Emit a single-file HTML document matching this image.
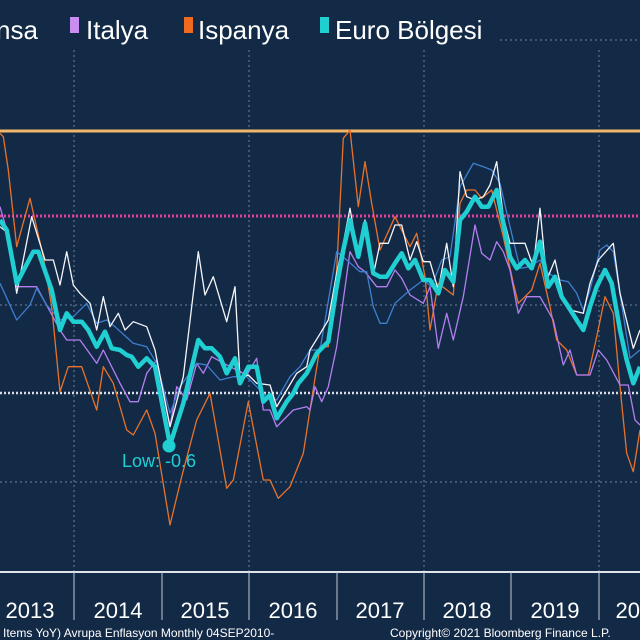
<!DOCTYPE html>
<html><head><meta charset="utf-8"><style>
html,body{margin:0;padding:0;background:#132a47;}
svg{display:block;font-family:"Liberation Sans",sans-serif;}
</style></head><body>
<svg id="c" width="640" height="640" viewBox="0 0 640 640" xmlns="http://www.w3.org/2000/svg">
<rect width="640" height="640" fill="#132a47"/>
<g stroke="#8797ad" stroke-width="1" stroke-dasharray="2,3" opacity="0.8">
<line x1="74" y1="50" x2="74" y2="572"/><line x1="249" y1="50" x2="249" y2="572"/>
<line x1="424" y1="50" x2="424" y2="572"/><line x1="599" y1="50" x2="599" y2="572"/>
<line x1="500" y1="40" x2="640" y2="40"/>
<line x1="0" y1="305" x2="640" y2="305"/>
<line x1="0" y1="482" x2="640" y2="482"/>
</g>
<line x1="0" y1="131" x2="640" y2="131" stroke="#f2b66a" stroke-width="3"/>
<line x1="0" y1="216" x2="640" y2="216" stroke="#e0409e" stroke-width="3" stroke-dasharray="2,2"/>
<line x1="0" y1="393" x2="640" y2="393" stroke="#d8dde6" stroke-width="2.5" stroke-dasharray="2,2"/>
<g id="series" fill="none" stroke-linejoin="round"></g>
<circle cx="169" cy="446" r="6.5" fill="#1fcfd2"/>
<text x="122" y="467" font-size="18" fill="#1fcfd2">Low: -0.6</text>
<g>
<text x="-4" y="39" font-size="26" fill="#ffffff">nsa</text>
<rect x="70" y="17" width="9" height="16" fill="#c98cf0"/>
<text x="86" y="39" font-size="26" fill="#ffffff">Italya</text>
<rect x="184" y="17" width="9" height="16" fill="#f06a20"/>
<text x="198" y="39" font-size="26" fill="#ffffff">Ispanya</text>
<rect x="320" y="17" width="9" height="16" fill="#20d0d0"/>
<text x="335" y="39" font-size="26" fill="#ffffff">Euro Bölgesi</text>
</g>
<line x1="0" y1="572" x2="640" y2="572" stroke="#e0e4ea" stroke-width="2"/>
<g stroke="#c0c8d4" stroke-width="1">
<line x1="74" y1="572" x2="74" y2="620"/><line x1="162" y1="572" x2="162" y2="620"/>
<line x1="249" y1="572" x2="249" y2="620"/><line x1="337" y1="572" x2="337" y2="620"/>
<line x1="424" y1="572" x2="424" y2="620"/><line x1="511" y1="572" x2="511" y2="620"/>
<line x1="599" y1="572" x2="599" y2="620"/>
</g>
<g font-size="22" fill="#ffffff" text-anchor="middle">
<text x="30" y="618">2013</text><text x="118" y="618">2014</text><text x="205" y="618">2015</text>
<text x="293" y="618">2016</text><text x="380" y="618">2017</text><text x="467" y="618">2018</text>
<text x="555" y="618">2019</text><text x="640" y="618">2020</text>
</g>
<text x="3" y="637" font-size="12" fill="#ffffff">Items YoY) Avrupa Enflasyon  Monthly 04SEP2010-</text>
<text x="390" y="637" font-size="12" fill="#ffffff">Copyright© 2021 Bloomberg Finance L.P.</text>
</svg>
<script>
var S={
orange:{c:"#e8722a",w:1.3,a:[[0,40],[10,50],[25,150],[50,380],[90,235],[130,410],[155,560],[180,815],[205,740],[245,740],[290,870],[310,740],[340,790],[380,930],[400,945],[440,870],[465,940],[510,1215],[545,1070],[590,900],[630,820],[680,1105],[700,1080],[745,845],[790,1080],[810,1080],[835,1135],[870,1100],[910,1000],[950,840],[990,680]],
b:[[0,870],[30,680],[55,680],[80,450],[100,55],[120,30],[145,260],[165,125],[185,250],[210,390],[255,290],[300,380],[320,340],[345,470],[360,630],[385,490],[430,525],[450,250],[470,210],[495,210],[515,235],[545,210],[580,350],[610,490],[625,550],[665,510],[690,430],[720,560],[740,660],[770,690],[800,765],[835,765],[860,650],[885,530],[910,580],[930,800],[950,1000],[970,1055],[990,930]]},
purple:{c:"#b47ef0",w:1.3,a:[[0,260],[20,330],[50,500],[110,500],[180,630],[200,660],[240,660],[290,730],[310,690],[360,790],[390,845],[415,845],[440,760],[470,720],[510,920],[530,800],[560,840],[590,730],[610,760],[635,710],[690,740],[740,765],[770,715],[790,870],[810,870],[830,920],[880,870],[920,860],[945,795],[965,840],[990,800]],
b:[[0,870],[15,800],[35,845],[55,800],[80,680],[120,395],[145,440],[165,455],[200,500],[230,500],[255,450],[275,475],[300,525],[340,550],[360,500],[385,685],[410,580],[430,660],[460,530],[495,315],[515,400],[540,420],[560,365],[580,395],[600,450],[625,580],[650,530],[690,530],[730,600],[760,735],[780,690],[800,765],[840,765],[865,690],[890,720],[930,795],[955,795],[975,900],[990,915]]},
blue:{c:"#3d7fd0",w:1.3,a:[[0,490],[50,600],[90,555],[110,505],[140,555],[180,600],[220,590],[260,550],[290,610],[320,600],[345,620],[400,670],[440,680],[470,730],[510,880],[540,800],[590,730],[620,735],[660,780],[700,770],[740,770],[800,830],[830,840],[870,770],[900,740],[930,690],[990,630]],
b:[[0,690],[30,690],[80,395],[110,420],[150,455],[170,455],[190,560],[210,610],[230,610],[255,550],[300,510],[340,480],[365,500],[395,420],[420,410],[450,200],[490,130],[520,140],[545,150],[570,190],[600,320],[630,445],[660,440],[690,420],[715,460],[750,480],[775,485],[800,520],[820,570],[840,510],[870,390],[890,375],[910,395],[930,520],[960,715],[990,690]]},
white:{c:"#f4f6fa",w:1.3,a:[[0,320],[25,340],[50,520],[95,290],[135,420],[160,420],[180,495],[200,395],[220,495],[240,520],[270,550],[290,630],[310,530],[330,620],[355,580],[375,630],[400,605],[440,620],[465,690],[510,920],[550,770],[595,395],[615,525],[640,470],[680,605],[705,500],[720,775],[745,765],[770,790],[810,795],[830,860],[860,810],[890,760],[920,740],[945,665],[990,600]],
b:[[0,690],[25,650],[55,600],[80,460],[100,370],[120,265],[145,410],[165,300],[190,465],[210,370],[235,370],[255,315],[275,315],[300,420],[320,365],[340,425],[360,425],[385,510],[410,370],[430,500],[450,155],[470,230],[495,240],[520,230],[540,195],[560,125],[580,290],[600,370],[645,370],[670,440],[690,265],[710,480],[735,420],[760,535],[780,570],[820,580],[840,490],[865,420],[910,370],[930,520],[970,685],[990,630]]},
euro:{c:"#1fcfd2",w:4.5,a:[[0,300],[20,330],[50,490],[100,395],[115,395],[155,510],[180,630],[200,580],[220,605],[245,605],[265,630],[290,680],[315,635],[335,685],[360,690],[380,705],[395,710],[415,740],[440,715],[465,740],[510,975],[550,850],[595,660],[615,685],[635,685],[660,710],[680,760],[705,715],[720,790],[745,740],[770,740],[790,845],[810,825],[830,895],[860,845],[880,820],[895,790],[920,760],[940,710],[960,690],[990,650]],
b:[[0,740],[20,700],[55,665],[80,500],[100,390],[120,300],[145,410],[165,310],[190,460],[210,470],[230,470],[255,430],[275,400],[295,445],[315,420],[340,480],[360,480],[385,520],[405,450],[430,485],[450,300],[470,275],[495,230],[515,260],[535,260],[560,210],[580,310],[600,410],[620,445],[645,420],[665,445],[690,365],[715,500],[735,470],[755,530],[775,560],[800,600],[820,630],[840,560],[860,500],[885,450],[905,490],[930,630],[950,720],[970,790],[990,740]]}
};
var g=document.getElementById("series"),ns="http://www.w3.org/2000/svg";
["orange","purple","blue","white","euro"].forEach(function(k){
 var s=S[k],pts=[];
 s.a.forEach(function(p){if(p[0]<930)pts.push((p[0]/3).toFixed(1)+","+(p[1]/3+120).toFixed(1));});
 s.b.forEach(function(p){pts.push((p[0]/3+310).toFixed(1)+","+(p[1]/3+120).toFixed(1));});
 var pl=document.createElementNS(ns,"polyline");
 pl.setAttribute("points",pts.join(" "));pl.setAttribute("stroke",s.c);pl.setAttribute("stroke-width",s.w);
 g.appendChild(pl);
});
</script>
</body></html>
